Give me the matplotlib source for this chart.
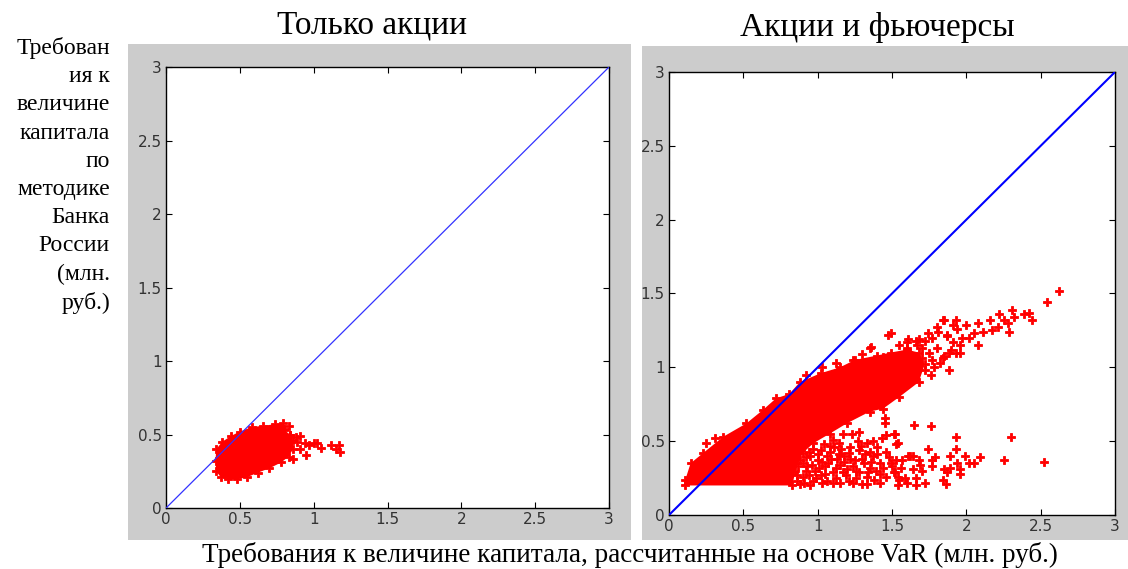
import numpy as np
import matplotlib
matplotlib.use('Agg')
import matplotlib.pyplot as plt
from matplotlib.patches import Rectangle

# ---- data (mln rub) ----
titles = ['Только акции', 'Акции и фьючерсы']
ylabel_lines = ['Требован', 'ия к', 'величине', 'капитала', 'по',
                'методике', 'Банка', 'России', '(млн.', 'руб.)']
xlabel = 'Требования к величине капитала, рассчитанные на основе VaR (млн. руб.)'
ticks = [0, 0.5, 1, 1.5, 2, 2.5, 3]
tick_labels = ['0', '0.5', '1', '1.5', '2', '2.5', '3']

# left panel: outline of the dense cloud + stray points
left_core = [(0.34, 0.25), (0.335, 0.32), (0.34, 0.40), (0.38, 0.45), (0.44, 0.49),
             (0.50, 0.52), (0.58, 0.55), (0.66, 0.56), (0.74, 0.57), (0.79, 0.575),
             (0.80, 0.53), (0.84, 0.50), (0.86, 0.46), (0.86, 0.40), (0.83, 0.35),
             (0.78, 0.31), (0.70, 0.27), (0.62, 0.24), (0.55, 0.21), (0.48, 0.195),
             (0.42, 0.195), (0.37, 0.21)]
left_pts = [(0.80, 0.54), (0.84, 0.50), (0.86, 0.33), (0.88, 0.48), (0.91, 0.40),
            (0.91, 0.49), (0.94, 0.44), (0.95, 0.36), (0.97, 0.43), (1.00, 0.44),
            (1.02, 0.44), (1.05, 0.41), (1.12, 0.43), (1.15, 0.40), (1.17, 0.43),
            (1.18, 0.38), (0.83, 0.56), (0.89, 0.45)]

# right panel: outline of the dense cloud
right_core = [(0.105, 0.20), (0.11, 0.24), (0.145, 0.35), (0.23, 0.42), (0.365, 0.53),
              (0.52, 0.62), (0.63, 0.71), (0.72, 0.79), (0.81, 0.82), (0.88, 0.90),
              (1.02, 0.96), (1.15, 1.00), (1.25, 1.05), (1.40, 1.08), (1.49, 1.10),
              (1.60, 1.12), (1.68, 1.10), (1.72, 1.02), (1.68, 0.90), (1.55, 0.80),
              (1.44, 0.72), (1.35, 0.70), (1.195, 0.62), (1.08, 0.55), (0.97, 0.485),
              (0.90, 0.42), (0.85, 0.30), (0.83, 0.20)]
# upper arm, sparse part
right_upper = [(2.62, 1.52), (2.54, 1.44), (2.44, 1.32), (2.42, 1.37), (2.39, 1.36),
               (2.32, 1.34), (2.31, 1.39), (2.29, 1.24), (2.28, 1.30), (2.22, 1.36),
               (2.25, 1.32), (2.16, 1.32), (2.21, 1.27), (2.17, 1.25), (2.08, 1.30),
               (2.11, 1.24), (2.05, 1.23), (2.00, 1.29), (2.08, 1.15), (2.02, 1.20),
               (1.93, 1.32), (1.91, 1.29), (1.85, 1.32), (1.94, 1.26), (1.87, 1.22),
               (1.97, 1.20), (1.96, 1.15), (1.91, 1.17), (1.81, 1.24), (1.77, 1.20),
               (1.72, 1.18), (1.68, 1.19), (1.61, 1.19), (1.49, 1.23), (1.60, 1.13),
               (1.70, 1.13), (1.80, 1.13), (1.88, 1.10), (1.96, 1.10), (1.84, 1.06),
               (1.77, 1.05), (1.80, 1.27), (1.84, 1.32), (1.475, 1.22), (1.36, 1.14),
               (1.03, 1.00), (0.92, 0.95), (1.74, 1.23), (1.87, 1.21), (1.67, 1.15),
               (1.72, 0.98), (1.78, 1.00), (1.82, 1.03), (1.76, 0.95), (1.85, 1.08),
               (1.90, 1.12), (1.93, 1.10), (1.88, 0.98), (0.25, 0.49), (0.31, 0.52),
               (1.35, 1.13), (1.24, 1.05), (1.44, 1.07), (1.60, 1.17), (1.66, 1.18),
               (1.12, 1.03), (1.30, 1.09), (1.55, 1.15), (1.70, 1.06), (1.75, 1.10)]
# lower branch, scattered
right_lower = [(1.45, 0.66), (1.45, 0.625), (1.52, 0.55), (1.46, 0.54), (1.43, 0.52),
               (1.54, 0.49), (1.28, 0.56), (1.23, 0.55), (1.17, 0.55), (1.10, 0.51),
               (1.14, 0.49), (1.27, 0.50), (1.33, 0.49), (1.37, 0.50), (1.40, 0.46),
               (1.46, 0.43), (1.35, 0.43), (1.28, 0.44), (1.22, 0.46), (1.16, 0.45),
               (1.08, 0.47), (1.02, 0.44), (1.06, 0.40), (1.14, 0.41), (1.22, 0.38),
               (1.30, 0.38), (1.37, 0.40), (1.42, 0.35), (1.49, 0.35), (1.53, 0.37),
               (1.51, 0.29), (1.54, 0.26), (1.59, 0.25), (1.61, 0.40), (1.54, 0.20),
               (1.46, 0.26), (1.42, 0.28), (1.35, 0.32), (1.33, 0.26), (1.28, 0.29),
               (1.24, 0.33), (1.19, 0.27), (1.15, 0.34), (1.10, 0.29), (1.05, 0.33),
               (1.02, 0.27), (1.00, 0.37), (0.95, 0.40), (0.93, 0.33), (0.90, 0.26),
               (0.97, 0.23), (1.06, 0.23), (1.15, 0.22), (1.24, 0.22), (1.33, 0.21),
               (1.42, 0.22), (0.88, 0.37), (0.86, 0.23), (0.89, 0.44), (0.92, 0.30),
               (0.98, 0.30), (1.03, 0.36), (1.09, 0.38), (1.12, 0.25), (1.20, 0.31),
               (1.26, 0.25), (1.31, 0.35), (1.38, 0.24), (1.18, 0.40), (0.95, 0.20),
               (1.65, 0.61), (1.76, 0.60), (1.93, 0.53), (2.30, 0.53), (1.51, 0.55),
               (1.53, 0.48), (1.74, 0.45), (1.93, 0.45), (1.62, 0.40), (1.64, 0.40),
               (1.79, 0.39), (1.89, 0.40), (1.99, 0.40), (2.25, 0.37), (2.52, 0.36),
               (1.77, 0.37), (2.02, 0.35), (2.05, 0.35), (1.94, 0.35), (1.48, 0.39),
               (1.57, 0.37), (1.68, 0.37), (1.69, 0.34), (1.64, 0.31), (1.70, 0.30),
               (1.77, 0.33), (1.85, 0.31), (1.89, 0.32), (1.96, 0.31), (1.87, 0.29),
               (1.52, 0.29), (1.50, 0.33), (1.44, 0.32), (1.56, 0.32), (2.09, 0.39),
               (1.96, 0.28), (1.84, 0.24), (1.86, 0.21), (1.55, 0.24), (1.60, 0.22),
               (1.66, 0.25), (1.72, 0.22), (1.66, 0.20)]
# extra points where the lower branch leaves the dense core
right_fill = [(0.86, 0.27), (0.88, 0.21), (0.87, 0.33), (0.90, 0.35), (0.91, 0.22),
              (0.92, 0.39), (0.94, 0.27), (0.94, 0.43), (0.96, 0.34), (0.97, 0.45),
              (0.99, 0.25), (1.00, 0.41), (1.01, 0.32), (1.03, 0.22), (1.04, 0.48),
              (1.05, 0.28), (1.07, 0.35), (1.08, 0.43), (1.10, 0.22), (1.11, 0.46),
              (1.12, 0.32), (1.13, 0.38), (1.17, 0.29), (1.18, 0.36), (1.21, 0.23),
              (1.21, 0.42), (1.25, 0.37), (1.26, 0.30), (1.29, 0.47), (1.30, 0.21),
              (1.32, 0.41), (1.34, 0.29), (1.36, 0.36), (1.39, 0.30), (1.40, 0.41)]

serif = ['Liberation Serif', 'DejaVu Serif']

fig = plt.figure(figsize=(11.28, 5.69), dpi=100)

# grey matlab figure backgrounds (behind the axes)
fig.patches.append(Rectangle((0.1135, 0.051), 0.4459, 0.8717, transform=fig.transFigure,
                             facecolor='#cccccc', edgecolor='none', zorder=-5))
fig.patches.append(Rectangle((0.5691, 0.051), 0.4309, 0.868, transform=fig.transFigure,
                             facecolor='#cccccc', edgecolor='none', zorder=-5))

ax1 = fig.add_axes([0.1472, 0.1072, 0.3927, 0.775])
ax2 = fig.add_axes([0.5931, 0.0949, 0.3954, 0.7786])

mk = dict(marker='P', ls='none', color='red', ms=5.5, mew=0.6, mec='red', zorder=2)


def draw_cloud(ax, core, extra):
    cx, cy = np.array(core).T
    ax.fill(cx, cy, color='red', lw=0, zorder=2)
    ax.plot(cx, cy, **mk)
    for pts in extra:
        px, py = np.array(pts).T
        ax.plot(px, py, **mk)


draw_cloud(ax1, left_core, [left_pts])
draw_cloud(ax2, right_core, [right_upper, right_lower, right_fill])

ax1.plot([0, 3], [0, 3], color='#3333ff', lw=0.9, zorder=3)
ax2.plot([0, 3], [0, 3], color='blue', lw=1.5, zorder=3)

for ax in (ax1, ax2):
    ax.set_xlim(0, 3)
    ax.set_ylim(0, 3)
    ax.set_xticks(ticks)
    ax.set_yticks(ticks)
    ax.set_xticklabels(tick_labels)
    ax.set_yticklabels(tick_labels)
    ax.tick_params(direction='in', top=True, right=True, length=4, width=0.8,
                   labelsize=11, labelcolor='#333333', pad=3)
    for s in ax.spines.values():
        s.set_linewidth(1.0)

fig.text(0.33, 0.956, titles[0], ha='center', va='center', family=serif, fontsize=24)
fig.text(0.7775, 0.951, titles[1], ha='center', va='center', family=serif, fontsize=24)

fig.text(0.0975, 0.935, '\n'.join(ylabel_lines), ha='right', va='top',
         multialignment='right', family=serif, fontsize=17, linespacing=1.45)
fig.text(0.5585, 0.024, xlabel, ha='center', va='center', family=serif, fontsize=19.5)

plt.savefig('out.png', dpi=100)
plt.close()
